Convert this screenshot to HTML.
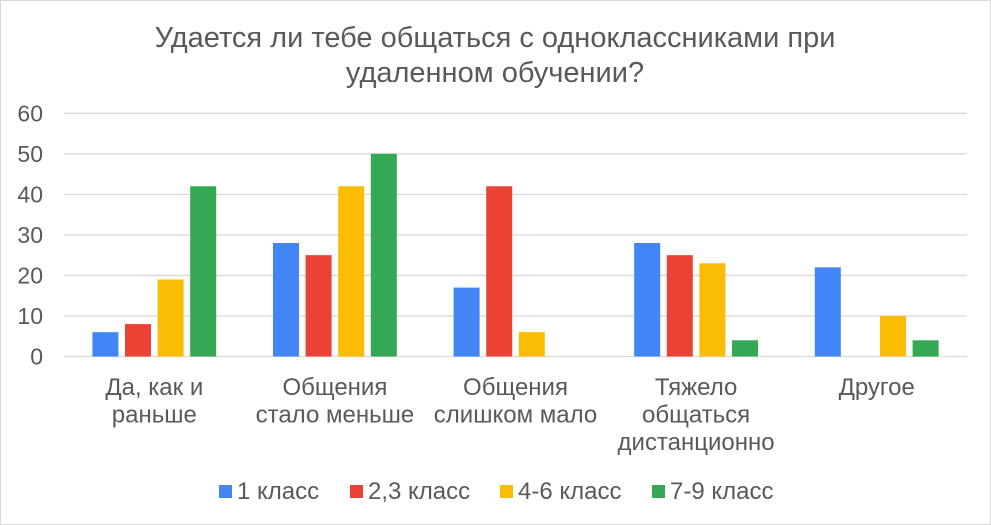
<!DOCTYPE html>
<html><head><meta charset="utf-8"><style>
body{margin:0;background:#fff}
svg{display:block;font-family:"Liberation Sans",sans-serif}
</style></head><body>
<svg id="c" width="991" height="525">
<rect x="0.5" y="0.5" width="990" height="524" fill="#fff" stroke="#d9d9d9"/>
<text x="495" y="47" text-anchor="middle" font-size="29" fill="#595959">Удается ли тебе общаться с одноклассниками при</text>
<text x="495" y="82" text-anchor="middle" font-size="29" fill="#595959">удаленном обучении?</text>
<g id="grid"></g><g id="bars"></g><g id="xl"></g><g id="lg"></g>
</svg>
<script>
const categories=[["Да, как и","раньше"],["Общения","стало меньше"],["Общения","слишком мало"],["Тяжело","общаться","дистанционно"],["Другое"]];
const seriesNames=["1 класс","2,3 класс","4-6 класс","7-9 класс"];
const s1=[6,28,17,28,22];
const s2=[8,25,42,25,0];
const s3=[19,42,6,23,10];
const s4=[42,50,0,4,4];
const yTicks=[0,10,20,30,40,50,60];
const colors=["#4285f4","#ea4335","#fbbc04","#34a853"];
const series=[s1,s2,s3,s4];
const NS="http://www.w3.org/2000/svg";
const x0=64,x1=967,yB=356.5,yT=113.3,yMax=60;
const y=v=>yB-(v/yMax)*(yB-yT);
const cw=(x1-x0)/categories.length;
const bw=26,pitch=32.6;
function mk(t,a,p){const e=document.createElementNS(NS,t);for(const k in a)e.setAttribute(k,a[k]);p.appendChild(e);return e;}
const g=document.getElementById('grid');
yTicks.forEach(v=>{
 const l=mk('line',{x1:x0,x2:x1,y1:y(v),y2:y(v),stroke:'#d9d9d9','stroke-width':1.3},g);
 
 
 const t=mk('text',{x:43,y:y(v)+8,'text-anchor':'end','font-size':23,fill:'#595959'},g);
 t.textContent=v;
 
 
});
const b=document.getElementById('bars');
categories.forEach((c,i)=>{
 const cx=x0+cw*(i+0.5);
 series.forEach((s,j)=>{
  const bx=cx+(j-1.5)*pitch-bw/2;
  const r=mk('rect',{x:bx,y:y(s[i]),width:bw,height:yB-y(s[i]),fill:colors[j]},b);
  
  
 });
 const t=mk('text',{'text-anchor':'middle','font-size':24,fill:'#595959'},document.getElementById('xl'));
 
 
 c.forEach((ln,k)=>{const ts=mk('tspan',{x:cx,y:395+k*27.5},t);ts.textContent=ln;});
});
const lg=document.getElementById('lg');
const lx=[219,350,500,652];
seriesNames.forEach((n,j)=>{
 const r=mk('rect',{x:lx[j],y:485,width:13,height:13,fill:colors[j]},lg);
 
 
 const t=mk('text',{x:lx[j]+18,y:499,'font-size':24,fill:'#595959'},lg);
 t.textContent=n;
 
 
});
</script>
</body></html>
